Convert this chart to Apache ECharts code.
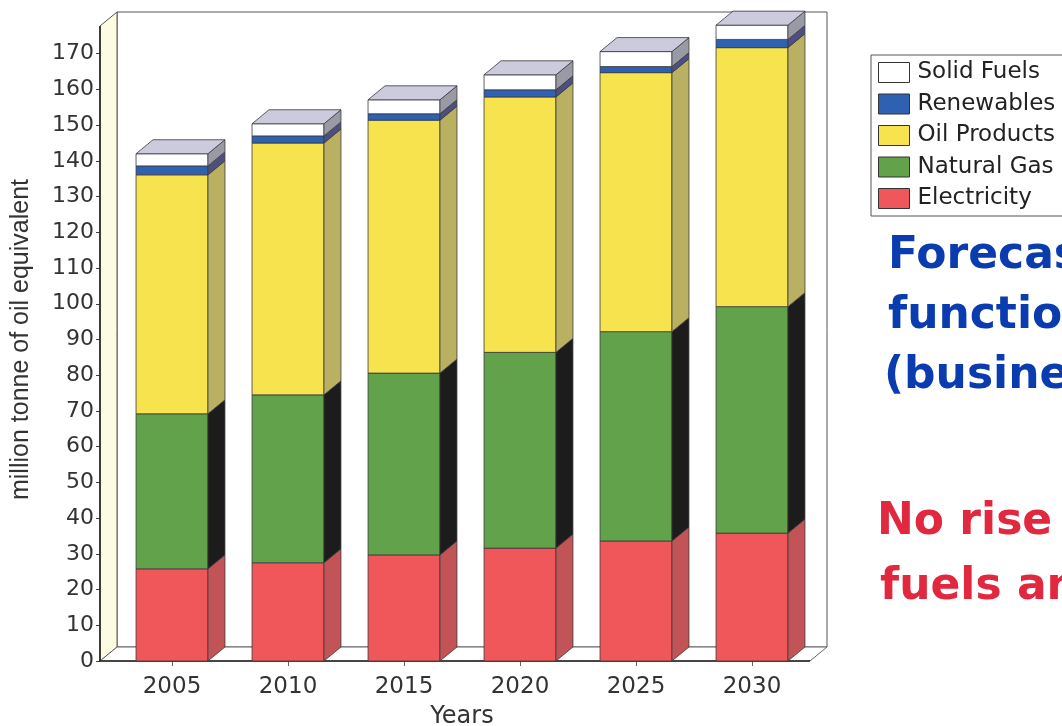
<!DOCTYPE html>
<html><head><meta charset="utf-8">
<script src="https://cdn.jsdelivr.net/npm/echarts@6/dist/echarts.min.js"></script>
<style>html,body{margin:0;padding:0;background:#fff}#c{width:1062px;height:726px}</style>
</head><body><div id="c"></div>
<script>
const categories = ['2005', '2010', '2015', '2020', '2025', '2030'];
const electricity = [25.8, 27.5, 29.7, 31.6, 33.6, 35.8];
const naturalGas  = [43.4, 47.0, 50.9, 54.8, 58.6, 63.4];
const oilProducts = [66.9, 70.5, 70.8, 71.5, 72.5, 72.5];
const renewables  = [2.5, 2.0, 1.8, 2.0, 1.7, 2.3];
const solidFuels  = [3.4, 3.4, 3.9, 4.2, 4.2, 4.0];
const yMin = 0, yMax = 180, yInterval = 10;
const yTickValues = [0, 10, 20, 30, 40, 50, 60, 70, 80, 90, 100, 110, 120, 130, 140, 150, 160, 170];
const legendOrder = ['Solid Fuels', 'Renewables', 'Oil Products', 'Natural Gas', 'Electricity'];

const layers = [
  {name: 'Electricity',  values: electricity, front: '#f0575a', side: '#c25458'},
  {name: 'Natural Gas',  values: naturalGas,  front: '#62a24b', side: '#1c1c1c'},
  {name: 'Oil Products', values: oilProducts, front: '#f6e34e', side: '#b9b061'},
  {name: 'Renewables',   values: renewables,  front: '#2f61b3', side: '#4d4f80'},
  {name: 'Solid Fuels',  values: solidFuels,  front: '#ffffff', side: '#9a9aa6'}
];

const DX = 17, DY = -14;
const edge = {stroke: '#3a3a3a', lineWidth: 0.8};

function makeRender(isTop, front, side) {
  return function (params, api) {
    const cat = api.value(0), lo = api.value(1), hi = api.value(2);
    const p0 = api.coord([cat, lo]), p1 = api.coord([cat, hi]);
    const w = api.size([1, 0])[0] * 0.62;
    const x = p0[0] - w / 2, yb = p0[1], yt = p1[1];
    const children = [
      {type: 'rect', shape: {x: x, y: yt, width: w, height: yb - yt}, style: Object.assign({fill: front}, edge)},
      {type: 'polygon', shape: {points: [[x + w, yt], [x + w + DX, yt + DY], [x + w + DX, yb + DY], [x + w, yb]]}, style: Object.assign({fill: side}, edge)}
    ];
    if (isTop) {
      children.push({type: 'polygon', shape: {points: [[x, yt], [x + DX, yt + DY], [x + w + DX, yt + DY], [x + w, yt]]}, style: Object.assign({fill: '#cbcbdd'}, edge)});
    }
    return {type: 'group', children: children};
  };
}

const cumulative = categories.map(() => 0);
const barSeries = layers.map((layer, li) => {
  const data = categories.map((c, i) => {
    const lo = cumulative[i];
    const hi = lo + layer.values[i];
    cumulative[i] = hi;
    return [i, lo, hi];
  });
  return {
    type: 'custom', name: layer.name, coordinateSystem: 'cartesian2d',
    renderItem: makeRender(li === layers.length - 1, layer.front, layer.side),
    encode: {x: 0, y: [1, 2]},
    itemStyle: {color: layer.front},
    data: data, z: 3, silent: true
  };
});

const frameSeries = {
  type: 'custom', name: 'frame', coordinateSystem: 'cartesian2d', z: 1, silent: true,
  encode: {x: 0, y: 1},
  data: [[0, 0]],
  renderItem: function (params, api) {
    const cs = params.coordSys;
    const y0 = api.coord([0, yMin])[1];
    const L = cs.x - 14, R = cs.x + cs.width, T = cs.y + 8;
    return {type: 'group', children: [
      {type: 'rect', shape: {x: L + DX, y: T + DY, width: R - L, height: y0 - T}, style: {fill: '#ffffff', stroke: '#555', lineWidth: 1}},
      {type: 'polygon', shape: {points: [[L, y0], [L, T], [L + DX, T + DY], [L + DX, y0 + DY]]}, style: {fill: '#fdfbe2', stroke: '#555', lineWidth: 1}},
      {type: 'polygon', shape: {points: [[L, y0], [R, y0], [R + DX, y0 + DY], [L + DX, y0 + DY]]}, style: {fill: '#ffffff', stroke: '#666', lineWidth: 1}},
      {type: 'polyline', shape: {points: [[L, T], [L, y0], [R, y0]]}, style: {fill: null, stroke: '#222', lineWidth: 1.6}}
    ]};
  }
};

const chart = echarts.init(document.getElementById('c'));
chart.setOption({
  backgroundColor: '#ffffff',
  animation: false,
  grid: {left: 114, right: 252, top: 18, bottom: 65, containLabel: false, outerBoundsMode: 'none'},
  legend: {
    data: legendOrder, orient: 'vertical', left: 871, top: 55, icon: 'rect',
    itemWidth: 31, itemHeight: 20, itemGap: 8.5, padding: [6, 10, 6, 7],
    borderColor: '#555', borderWidth: 1, backgroundColor: '#fff',
    itemStyle: {borderColor: '#333', borderWidth: 1},
    textStyle: {fontSize: 23, fontFamily: 'DejaVu Sans', color: '#222', padding: [0, 0, 0, 3]},
    selectedMode: false
  },
  xAxis: {
    type: 'category', data: categories,
    name: 'Years', nameLocation: 'middle', nameGap: 44,
    nameTextStyle: {fontSize: 24, fontFamily: 'DejaVu Sans', color: '#333'},
    axisLine: {show: false},
    axisTick: {show: true, alignWithLabel: true, length: 5, lineStyle: {color: '#666'}},
    axisLabel: {fontSize: 23, fontFamily: 'DejaVu Sans', color: '#333', margin: 15}
  },
  yAxis: {
    type: 'value', min: yMin, max: yMax, interval: yInterval, offset: 14,
    name: 'million tonne of oil equivalent', nameLocation: 'middle', nameGap: 66,
    nameTextStyle: {fontSize: 25, fontFamily: 'Liberation Sans', color: '#333'},
    axisLine: {show: false},
    axisTick: {show: true, length: 4, lineStyle: {color: '#444'}, customValues: yTickValues},
    splitLine: {show: false},
    axisLabel: {fontSize: 22, fontFamily: 'DejaVu Sans', color: '#333', margin: 6, customValues: yTickValues}
  },
  graphic: [
    {type: 'text', x: 888, y: 257, style: {text: 'Forecast as a', font: 'bold 44px "DejaVu Sans"', fill: '#0a3cb0', verticalAlign: 'middle'}},
    {type: 'text', x: 888, y: 317, style: {text: 'function of GDP', font: 'bold 44px "DejaVu Sans"', fill: '#0a3cb0', verticalAlign: 'middle'}},
    {type: 'text', x: 884, y: 377, style: {text: '(business as usual)', font: 'bold 44px "DejaVu Sans"', fill: '#0a3cb0', verticalAlign: 'middle'}},
    {type: 'text', x: 877, y: 523, style: {text: 'No rise of solid', font: 'bold 44px "DejaVu Sans"', fill: '#e2283e', verticalAlign: 'middle'}},
    {type: 'text', x: 880, y: 588, style: {text: 'fuels and renewables', font: 'bold 44px "DejaVu Sans"', fill: '#e2283e', verticalAlign: 'middle'}}
  ],
  series: [frameSeries].concat(barSeries)
});
</script>
</body></html>
